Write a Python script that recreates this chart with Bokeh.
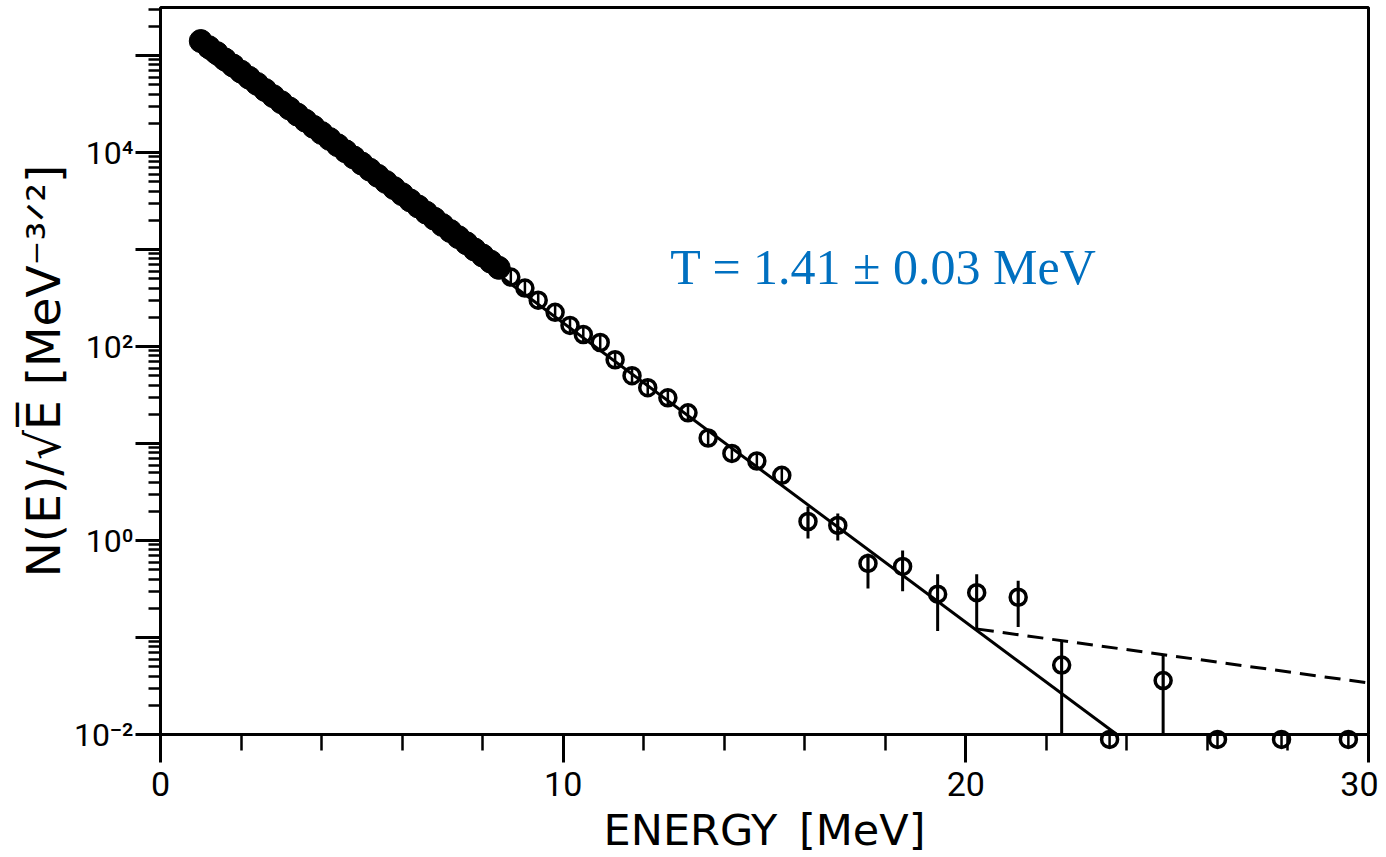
import math
from bokeh.plotting import figure
from bokeh.models import FixedTicker, Label, Range1d
from bokeh.embed import file_html
from bokeh.resources import INLINE

# ---- data ----
# densely binned low-energy spectrum (points overlap into a solid band)
dense_e = [1.0, 1.2, 1.4, 1.6, 1.8, 2.0, 2.2, 2.4, 2.6, 2.8, 3.0, 3.2, 3.4, 3.6,
           3.8, 4.0, 4.2, 4.4, 4.6, 4.8, 5.0, 5.2, 5.4, 5.6, 5.8, 6.0, 6.2, 6.4,
           6.6, 6.8, 7.0, 7.2, 7.4, 7.6, 7.8, 8.0, 8.2, 8.4]
dense_n = [141000, 122000, 106000, 91200, 78900, 68200, 59000, 51000, 44100,
           38100, 33000, 28500, 24600, 21300, 18400, 15900, 13800, 11900, 10300,
           8890, 7690, 6650, 5750, 4970, 4300, 3720, 3210, 2780, 2400, 2080,
           1790, 1550, 1340, 1160, 1000, 867, 750, 648]
# individual points (open circles)
pts_e = [8.7, 9.05, 9.38, 9.80, 10.17, 10.5, 10.92, 11.29, 11.71, 12.1,
         12.6, 13.1, 13.6, 14.19, 14.81, 15.43, 16.08, 16.82, 17.57, 18.43,
         19.3, 20.27, 21.3, 22.38, 24.9]
pts_n = [520, 400, 300, 225, 165, 133, 110, 73, 50, 37.6, 29.6, 20.7,
         11.4, 7.9, 6.6, 4.7, 1.57, 1.43, 0.58, 0.54, 0.28, 0.29, 0.26, 0.052,
         0.036]
# points sitting on the lower edge (zero counts)
zero_e = [23.57, 26.25, 27.84, 29.5]
zero_n = [0.0089, 0.0089, 0.0089, 0.0089]
# error bars
err_e = [16.08, 16.82, 17.57, 18.43, 19.3, 20.27, 21.3, 22.38, 24.9]
err_lo = [1.05, 1.0, 0.32, 0.30, 0.117, 0.12, 0.128, 0.01, 0.01]
err_hi = [2.24, 1.9, 0.73, 0.79, 0.45, 0.45, 0.385, 0.094, 0.067]
# exponential fit (T = 1.41 MeV) and upper-limit line
fit_e = [1.0, 23.75]
fit_n = [1.05e5, 0.01]
upper_e = [20.3, 30.0]
upper_n = [0.122, 0.034]

x_major = [0, 10, 20, 30]
x_minor = [2, 4, 6, 8, 12, 14, 16, 18, 22, 24, 26, 28]
y_decades = [-2, -1, 0, 1, 2, 3, 4, 5]
y_labels = {-2: "10\u207b\u00b2", 0: "10\u2070", 2: "10\u00b2", 4: "10\u2074"}

# ---- figure ----
p = figure(width=1378, height=857, x_range=Range1d(0, 30),
           y_range=Range1d(0.01, 10 ** 5.495), y_axis_type="log",
           output_backend="svg", toolbar_location=None,
           min_border_left=160, min_border_right=10, min_border_top=7,
           min_border_bottom=122)
p.background_fill_color = "white"
p.border_fill_color = "white"
p.outline_line_color = "black"
p.outline_line_width = 3
p.grid.visible = False

y_major = [10.0 ** k for k in y_decades]
y_minor = [m * 10.0 ** k for k in y_decades[:-1] for m in range(2, 10)] + \
          [m * 10.0 ** 5 for m in (2, 3)]

xa = p.xaxis[0]
xa.ticker = FixedTicker(ticks=x_major, minor_ticks=x_minor)
ya = p.yaxis[0]
ya.ticker = FixedTicker(ticks=y_major, minor_ticks=y_minor)
ya.major_label_overrides = {10.0 ** k: y_labels.get(k, "") for k in y_decades}

for ax in (xa, ya):
    ax.axis_line_width = 3
    ax.major_tick_line_width = 3
    ax.minor_tick_line_width = 2.5
    ax.major_tick_in = 0
    ax.minor_tick_in = 0
    ax.major_label_text_color = "black"
    ax.axis_label_text_color = "black"
    ax.axis_label_text_font_style = "normal"
xa.major_tick_out = 28
xa.minor_tick_out = 16
ya.major_tick_out = 25
ya.minor_tick_out = 12

xa.major_label_text_font = "Roboto"
xa.major_label_text_font_size = "34px"
xa.major_label_standoff = 9
ya.major_label_text_font = "Roboto"
ya.major_label_text_font_size = "32px"
ya.major_label_standoff = 2

xa.axis_label = "ENERGY\u2002[MeV]"
xa.axis_label_text_font = "DejaVu Sans"
xa.axis_label_text_font_size = "43px"
xa.axis_label_standoff = 6
ya.axis_label = "N(E)/\u221aE\u0305 [MeV\u207b\u00b3\u141f\u00b2]"
ya.axis_label_text_font = "DejaVu Sans"
ya.axis_label_text_font_size = "47px"
ya.axis_label_standoff = 0

# ---- glyphs ----
p.line(fit_e, fit_n, line_color="black", line_width=3)
p.line(upper_e, upper_n, line_color="black", line_width=3, line_dash="16 9")
p.segment(x0=err_e, y0=err_lo, x1=err_e, y1=err_hi, line_color="black", line_width=3)
p.scatter(dense_e, dense_n, marker="circle", size=23, fill_color="black",
          line_color="black")
p.scatter(pts_e, pts_n, marker="circle", size=16, fill_alpha=0,
          line_color="black", line_width=3.5)
p.scatter(pts_e, pts_n, marker="dash", angle=math.pi / 2, size=16,
          line_color="black", line_width=2.5)
r1 = p.scatter(zero_e, zero_n, marker="circle", size=16, fill_alpha=0,
               line_color="black", line_width=3.5)
r2 = p.scatter(zero_e, zero_n, marker="dash", angle=math.pi / 2, size=16,
               line_color="black", line_width=2.5)
r1.level = "overlay"
r2.level = "overlay"

p.add_layout(Label(x=12.66, y=665, text="T = 1.41 \u00b1 0.03 MeV",
                   text_font="Liberation Serif", text_font_size="50px",
                   text_color="#0070C0", text_baseline="alphabetic"))

open("out.html", "w").write(file_html(p, INLINE))
